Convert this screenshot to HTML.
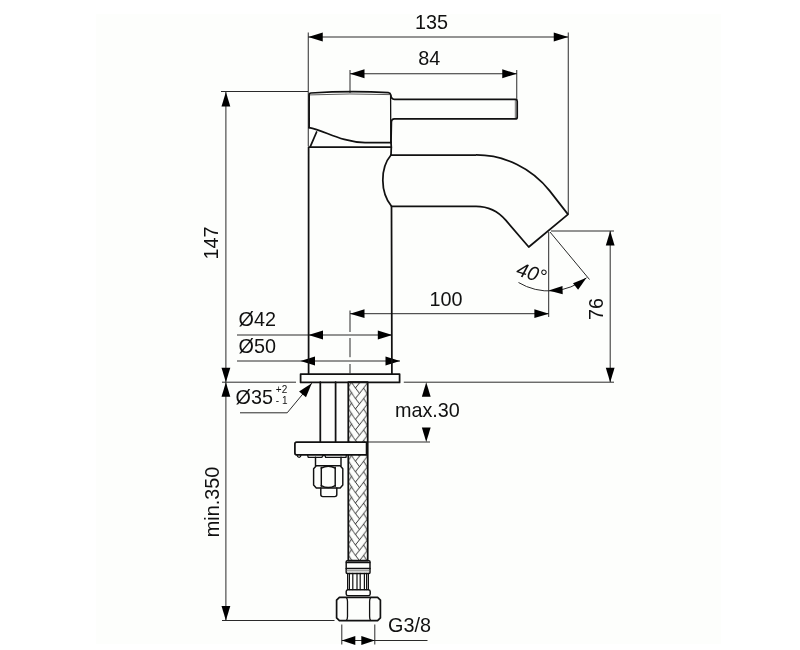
<!DOCTYPE html>
<html><head><meta charset="utf-8"><title>Drawing</title>
<style>
html,body{margin:0;padding:0;background:#fff;}
body{width:800px;height:650px;overflow:hidden;position:relative;}
svg{display:block;position:absolute;left:0;top:0;will-change:transform;}
text{font-family:"Liberation Sans",Arial,sans-serif;font-size:19.8px;fill:#111;}
.o{fill:none;stroke:#111;stroke-width:1.75;stroke-linejoin:round;stroke-linecap:round;}
.m{fill:none;stroke:#111;stroke-width:1.45;stroke-linejoin:round;stroke-linecap:round;}
.t line,.t polyline,.t path{stroke:#2a2a2a;stroke-width:1;fill:none;}
.a polygon{fill:#000;}
</style></head><body>
<svg width="800" height="650" viewBox="0 0 800 650">
<defs>
<pattern id="braid" x="348.3" y="383.2" width="19.4" height="10.46" patternUnits="userSpaceOnUse">
<g stroke="#2a2a2a" stroke-width="0.95" fill="none">
<path d="M0,-37.52 Q5,-28.92 11.4,-20.92"/>
<path d="M19.4,-32.02 Q13.5,-23.92 7.1,-16.02"/>
<path d="M3.5,-22.22 L0,-16.62"/>
<path d="M15.4,-26.42 L19.4,-19.72"/>
<path d="M0,-27.06 Q5,-18.46 11.4,-10.46"/>
<path d="M19.4,-21.56 Q13.5,-13.46 7.1,-5.56"/>
<path d="M3.5,-11.76 L0,-6.16"/>
<path d="M15.4,-15.96 L19.4,-9.26"/>
<path d="M0,-16.60 Q5,-8.00 11.4,0.00"/>
<path d="M19.4,-11.10 Q13.5,-3.00 7.1,4.90"/>
<path d="M3.5,-1.30 L0,4.30"/>
<path d="M15.4,-5.50 L19.4,1.20"/>
<path d="M0,-6.14 Q5,2.46 11.4,10.46"/>
<path d="M19.4,-0.64 Q13.5,7.46 7.1,15.36"/>
<path d="M3.5,9.16 L0,14.76"/>
<path d="M15.4,4.96 L19.4,11.66"/>
<path d="M0,4.32 Q5,12.92 11.4,20.92"/>
<path d="M19.4,9.82 Q13.5,17.92 7.1,25.82"/>
<path d="M3.5,19.62 L0,25.22"/>
<path d="M15.4,15.42 L19.4,22.12"/>
<path d="M0,14.78 Q5,23.38 11.4,31.38"/>
<path d="M19.4,20.28 Q13.5,28.38 7.1,36.28"/>
<path d="M3.5,30.08 L0,35.68"/>
<path d="M15.4,25.88 L19.4,32.58"/>
</g>
</pattern>
</defs>
<rect x="96" y="14" width="625" height="630" fill="#fdfefc"/>

<!-- thin dimension / extension lines -->
<g class="t">
<line x1="308.25" y1="32.5" x2="308.25" y2="146"/>
<line x1="568.25" y1="32.5" x2="568.25" y2="214"/>
<line x1="308" y1="37" x2="568" y2="37"/>
<line x1="350" y1="70" x2="350" y2="93"/>
<line x1="516.75" y1="70" x2="516.75" y2="100"/>
<line x1="350" y1="73.75" x2="517" y2="73.75"/>
<line x1="225.9" y1="92" x2="225.9" y2="620"/>
<line x1="221" y1="91.5" x2="308" y2="91.5"/>
<line x1="222" y1="382.2" x2="296" y2="382.2"/>
<line x1="222" y1="620.5" x2="334.5" y2="620.5"/>
<line x1="237" y1="335" x2="392" y2="335"/>
<line x1="237" y1="361" x2="400" y2="361"/>
<line x1="350" y1="313.7" x2="548.7" y2="313.7"/>
<line x1="548.7" y1="232" x2="548.7" y2="317"/>
<line x1="610.2" y1="231" x2="610.2" y2="382"/>
<line x1="551" y1="231" x2="614" y2="231"/>
<line x1="403.8" y1="382.2" x2="614" y2="382.2"/>
<line x1="368" y1="442" x2="430" y2="442"/>
<line x1="550" y1="232" x2="589.5" y2="279.5"/>
<line x1="341.8" y1="624.5" x2="341.8" y2="644.5"/>
<line x1="374.8" y1="624.5" x2="374.8" y2="644.5"/>
<line x1="341.8" y1="640.5" x2="427.5" y2="640.5"/>
<polyline points="240,412.8 287.2,412.8 311.8,383.2" fill="none"/>
<path d="M350,310.5 L350,332 M350,338 L350,357.2 M350,364 L350,373.4"/>
<path d="M518.5,282.5 A59.5,59.5 0 0 0 586.5,277.8"/>
</g>
<g class="a">
<polygon points="308.25,37.00 322.75,32.60 322.75,41.40"/>
<polygon points="568.25,37.00 553.75,41.40 553.75,32.60"/>
<polygon points="350.00,73.75 364.50,69.35 364.50,78.15"/>
<polygon points="516.75,73.75 502.25,78.15 502.25,69.35"/>
<polygon points="225.90,92.00 230.30,106.50 221.50,106.50"/>
<polygon points="225.90,382.20 221.50,367.70 230.30,367.70"/>
<polygon points="225.90,382.20 230.30,396.70 221.50,396.70"/>
<polygon points="225.90,620.50 221.50,606.00 230.30,606.00"/>
<polygon points="308.50,335.00 323.00,330.60 323.00,339.40"/>
<polygon points="392.30,335.00 377.80,339.40 377.80,330.60"/>
<polygon points="300.50,361.00 315.00,356.60 315.00,365.40"/>
<polygon points="400.00,361.00 385.50,365.40 385.50,356.60"/>
<polygon points="350.00,313.70 364.50,309.30 364.50,318.10"/>
<polygon points="548.90,313.70 534.40,318.10 534.40,309.30"/>
<polygon points="610.20,231.00 614.60,245.50 605.80,245.50"/>
<polygon points="610.20,382.20 605.80,367.70 614.60,367.70"/>
<polygon points="426.25,382.20 430.65,396.70 421.85,396.70"/>
<polygon points="426.25,442.00 421.85,427.50 430.65,427.50"/>
<polygon points="341.80,640.50 355.30,636.10 355.30,644.90"/>
<polygon points="374.80,640.50 361.30,644.90 361.30,636.10"/>
<polygon points="311.80,383.20 305.99,397.23 299.07,391.48"/>
<polygon points="548.60,290.50 562.47,285.98 562.72,294.18"/>
<polygon points="586.50,277.80 578.09,289.72 572.99,283.30"/>
</g>

<!-- faucet body -->
<g class="o">
<!-- handle cap -->
<path d="M309.1,127.6 L309.1,95 Q309.1,93.2 311,93 Q350,90.6 388.3,92.6 Q390.5,92.9 390.8,95 Q391.1,99.2 394.4,99.4 L515.5,99.4 Q517.2,99.6 517.2,101.3 L517.2,117.2 Q517.2,118.9 515.5,118.9 L394.4,118.9 Q391.6,119.1 391.4,121.8 L391,142.5"/>
<path d="M309.1,127.6 C325,130.5 340,141.8 365,142.6 L391,142.5"/>
<path d="M316.6,132 L310.4,146.4"/>
<path d="M390.6,95 L390.8,142.5" stroke-width="1.3"/>
<path d="M310,94.9 Q350,93.2 389.5,94.6" stroke-width="0.7"/>
<path d="M515.3,100 L515.3,118.6" stroke-width="0.6"/>
<path d="M391,142.5 L391.3,147"/>
<!-- body -->
<path d="M308.6,373.7 L308.6,147 L391.3,147 L391,155"/>
<path d="M391,155 L476,155 A93.5,93.5 0 0 1 549.7,190.9 L568,214.4 L528.75,247 L505.7,220.1 A38.75,38.75 0 0 0 476,206.25 L391.5,206.25 L391.9,373.7"/>
<path d="M391,155 C380,168 380,192 391.5,206.25"/>
<!-- base plate -->
<rect x="300.6" y="374.1" width="99" height="8.3"/>
<!-- threaded rod -->
<path d="M320.3,382.2 L320.3,442 M335.6,382.2 L335.6,442"/>
<!-- hose -->
<rect x="348.3" y="382.2" width="19.4" height="178.5" fill="url(#braid)"/>
<!-- bracket -->
<path d="M296.6,442.1 L366.6,442.1 L366.6,454.8 L296.6,454.8 Q294.9,454.8 294.9,453 L294.9,443.8 Q294.9,442.1 296.6,442.1 Z" fill="#fdfefc"/>
<path d="M297,455 Q297.4,457.4 299.2,457.3 Q300.8,457.2 301,455" stroke-width="1.3"/>
<path d="M307.6,455 L308.2,457.4 L322,457.4 L322.6,455.6 L325.2,455.6 L325.6,457.4 L346,457.4 L346.4,455" stroke-width="1.3"/>
</g>
<g class="m">
<!-- sleeve + nut -->
<path d="M315.5,457.2 L315.5,465.8 M341,457.2 L341,465.8"/>
<path d="M316.3,465.8 L340.2,465.8 L342.8,468.8 L342.8,485 L340.2,488 L316.3,488 L313.6,485 L313.6,468.8 Z"/>
<path d="M321.3,467.5 L321.3,486.3 M335.2,467.5 L335.2,486.3"/>
<path d="M321.3,468.2 Q328.2,464.2 335.2,468.2 M321.3,485.6 Q328.2,489.6 335.2,485.6"/>
<path d="M320.8,488 L320.8,494.6 Q320.8,496.6 322.8,496.6 L334.8,496.6 Q336.8,496.6 336.8,494.6 L336.8,488"/>
<!-- ferrule -->
<path d="M347.2,560.8 L369,560.8 Q370,560.8 370,561.8 L370,572.4 Q370,573.4 369,573.4 L347.2,573.4 Q346.2,573.4 346.2,572.4 L346.2,561.8 Q346.2,560.8 347.2,560.8 Z"/>
<path d="M346.2,562.6 L370,562.6" stroke-width="1.2"/>
<path d="M346.2,568.4 L370,568.4"/>
<path d="M346.2,570.8 L370,570.8" stroke-width="0.8" stroke="#555"/>
<path d="M347.6,573.4 L347.6,589.6 M349.4,573.4 L349.4,589.6 M352.8,573.4 L352.8,589.6 M357,573.4 L357,589.6 M360.2,573.4 L360.2,589.6 M364.4,573.4 L364.4,589.6 M366.6,573.4 L366.6,589.6 M368.4,573.4 L368.4,589.6" stroke-width="1.2"/>
<path d="M348,589.8 L368.4,589.8 Q370.2,590 370.2,591.6 L370.2,594 Q370.2,595.6 368.4,595.6 L348,595.6 Q346.2,595.6 346.2,594 L346.2,591.6 Q346.2,590 348,589.8 Z"/>
</g>
<g class="o">
<path d="M339.4,597.3 L377.6,597.3 L380.4,600.1 L380.4,617.9 L377.6,620.7 L339.4,620.7 L336.6,617.9 L336.6,600.1 Z" stroke-width="1.7"/>
<path d="M346.4,597.6 Q347.5,599 347.5,601.4 L347.5,616.4 Q347.5,619 346.4,620.4 M370.6,597.6 Q369.6,599 369.6,601.4 L369.6,616.4 Q369.6,619 370.6,620.4" stroke-width="1.3"/>
</g>

<!-- labels -->
<text x="431.5" y="28.8" text-anchor="middle">135</text>
<text x="429.2" y="65" text-anchor="middle">84</text>
<text x="446" y="306" text-anchor="middle">100</text>
<text x="238.5" y="326.4">Ø42</text>
<text x="238.5" y="353">Ø50</text>
<text x="235.5" y="404.2">Ø35</text>
<text x="275.8" y="393" style="font-size:10px">+2</text>
<text x="275.8" y="403.6" style="font-size:10px">- 1</text>
<text x="395" y="416.6">max.30</text>
<text x="388" y="631.8">G3/8</text>
<text transform="translate(217.7,243) rotate(-90)" text-anchor="middle">147</text>
<text transform="translate(219,502) rotate(-90)" text-anchor="middle">min.350</text>
<text transform="translate(602.5,309) rotate(-90)" text-anchor="middle">76</text>
<text transform="translate(515.3,275) rotate(17)" style="font-style:italic">40°</text>
</svg>
</body></html>
